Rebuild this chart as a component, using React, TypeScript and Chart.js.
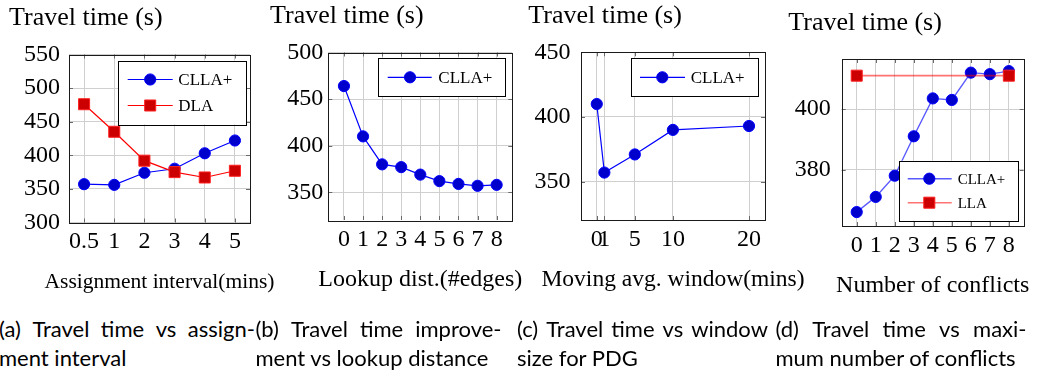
import React, { useEffect, useRef } from 'react';
import { Chart, registerables } from 'chart.js';

Chart.register(...registerables);

const SERIF = '"Liberation Serif", "Times New Roman", serif';
const SANS = 'Lato, "Noto Sans", sans-serif';
const CANVAS_H = 300;

// ---------- data ----------
// (a) Travel time vs assignment interval
const aCategories = ['0.5', '1', '2', '3', '4', '5'];
const aCLLA = [357, 356, 374, 380, 403, 422];
const aDLA = [476, 435, 392, 375, 367, 377];
const aYTicks = [300, 350, 400, 450, 500, 550];

// (b) Travel time improvement vs lookup distance
const bX = [0, 1, 2, 3, 4, 5, 6, 7, 8];
const bCLLA = [464, 410, 380, 377, 369, 362, 359, 357, 358];
const bYTicks = [350, 400, 450, 500];

// (c) Travel time vs window size for PDG
const cX = [0, 1, 5, 10, 20];
const cCLLA = [410, 357, 371, 390, 393];
const cYTicks = [350, 400, 450];

// (d) Travel time vs maximum number of conflicts
const dX = [0, 1, 2, 3, 4, 5, 6, 7, 8];
const dCLLA = [366, 371, 378, 391, 403.5, 403, 412, 411.5, 412.5];
const dLLAX = [0, 8];
const dLLA = [411, 411];
const dYTicks = [380, 400];

const yAxisTitle = 'Travel time (s)';
const xTitles = ['Assignment interval(mins)', 'Lookup dist.(#edges)', 'Moving avg. window(mins)', 'Number of conflicts'];
const captionFirst = ['(a) Travel time vs assign-', '(b) Travel time improve-', '(c) Travel time vs window', '(d) Travel time vs maxi-'];
const captionSecond = ['ment interval', 'ment vs lookup distance', 'size for PDG', 'mum number of conflicts'];

// ---------- styles ----------
const BLUE = { line: '#0000ff', fill: 'rgb(0,0,204)', stroke: '#0000ff' };
const RED = { line: '#ff0000', fill: 'rgb(204,0,0)', stroke: '#ff2020' };
const GRID = '#cfcfcf';

function series(label: string, data: any[], c: any, style: string, order: number, lineColor?: string, lineWidth = 1.2) {
  return {
    label,
    data,
    borderColor: lineColor || c.line,
    borderWidth: lineWidth,
    backgroundColor: c.fill,
    pointBackgroundColor: c.fill,
    pointBorderColor: c.stroke,
    pointBorderWidth: 1,
    pointStyle: style,
    pointRadius: style === 'rect' ? 7.8 : 5.6,
    tension: 0,
    fill: false,
    order,
  };
}

const xy = (xs: number[], ys: number[]) => xs.map((x, i) => ({ x, y: ys[i] }));

const decor = {
  id: 'decor',
  beforeDatasetsDraw(chart: any) {
    const { ctx, chartArea: ca } = chart;
    const xs = chart.scales.x;
    const ys = chart.scales.y;
    ctx.save();
    ctx.strokeStyle = '#6a6a6a';
    ctx.lineWidth = 1;
    ctx.beginPath();
    xs.ticks.forEach((_t: any, i: number) => {
      const px = Math.round(xs.getPixelForTick(i)) + 0.5;
      ctx.moveTo(px, ca.bottom);
      ctx.lineTo(px, ca.bottom - 4);
      ctx.moveTo(px, ca.top);
      ctx.lineTo(px, ca.top + 4);
    });
    ys.ticks.forEach((_t: any, i: number) => {
      const py = Math.round(ys.getPixelForTick(i)) + 0.5;
      ctx.moveTo(ca.left, py);
      ctx.lineTo(ca.left + 4, py);
      ctx.moveTo(ca.right, py);
      ctx.lineTo(ca.right - 4, py);
    });
    ctx.stroke();
    ctx.strokeStyle = '#1a1a1a';
    ctx.strokeRect(Math.round(ca.left) + 0.5, Math.round(ca.top) + 0.5, Math.round(ca.right - ca.left), Math.round(ca.bottom - ca.top));
    ctx.restore();
  },
  afterDraw(chart: any, _a: any, o: any) {
    const { ctx, chartArea: ca } = chart;
    ctx.save();
    ctx.fillStyle = '#000';
    ctx.textBaseline = 'alphabetic';
    // y axis title above plot
    ctx.font = `26px ${SERIF}`;
    ctx.textAlign = 'left';
    ctx.fillText(o.yTitle, o.titleX, ca.top - 29.5);
    // x axis title below tick labels
    ctx.font = `${o.xTitleSize}px ${SERIF}`;
    ctx.textAlign = 'center';
    ctx.fillText(o.xTitle, (ca.left + ca.right) / 2, ca.bottom + 65.5);
    // legend
    ctx.textAlign = 'left';
    const lg = o.legend;
    const items = chart.data.datasets;
    const h = items.length * lg.rowH + 12;
    const right = ca.right - lg.insetX;
    const left = right - lg.w;
    const top = lg.anchor === 'ne' ? ca.top + lg.insetY : ca.bottom - lg.insetY - h;
    ctx.fillStyle = '#fff';
    ctx.fillRect(left, top, lg.w, h);
    ctx.strokeStyle = '#000';
    ctx.lineWidth = 1;
    ctx.strokeRect(Math.round(left) + 0.5, Math.round(top) + 0.5, Math.round(lg.w), Math.round(h));
    items.forEach((ds: any, i: number) => {
      const y = top + 6 + lg.rowH * (i + 0.5);
      ctx.strokeStyle = ds.borderColor;
      ctx.lineWidth = ds.borderWidth;
      ctx.beginPath();
      ctx.moveTo(left + lg.lineX0, y);
      ctx.lineTo(left + lg.lineX1, y);
      ctx.stroke();
      const mx = left + lg.markX;
      ctx.fillStyle = ds.pointBackgroundColor;
      ctx.strokeStyle = ds.pointBorderColor;
      ctx.lineWidth = 1;
      ctx.beginPath();
      if (ds.pointStyle === 'rect') {
        const s = Math.SQRT1_2 * ds.pointRadius;
        ctx.rect(mx - s, y - s, 2 * s, 2 * s);
      } else {
        ctx.arc(mx, y, ds.pointRadius, 0, Math.PI * 2);
      }
      ctx.fill();
      ctx.stroke();
      ctx.fillStyle = '#000';
      ctx.font = `${lg.font}px ${SERIF}`;
      ctx.textBaseline = 'middle';
      ctx.fillText(ds.label, left + lg.textX, y + 1);
    });
    ctx.restore();
  },
};

type PanelCfg = {
  canvasX: number;
  canvasW: number;
  plot: { l: number; r: number; t: number; b: number };
  xType: 'category' | 'linear';
  labels?: string[];
  xMin?: number;
  xMax?: number;
  xTicks?: number[];
  yMin: number;
  yMax: number;
  yTicks: number[];
  yPad: number;
  xTitle: string;
  xTitleSize: number;
  titleX: number;
  datasets: any[];
  legend: any;
};

const panels: PanelCfg[] = [
  {
    canvasX: 0, canvasW: 300,
    plot: { l: 69, r: 250, t: 54.5, b: 222.5 },
    xType: 'category', labels: aCategories,
    yMin: 300, yMax: 550, yTicks: aYTicks, yPad: 9,
    xTitle: xTitles[0], xTitleSize: 21.5, titleX: 9,
    datasets: [series('CLLA+', aCLLA, BLUE, 'circle', 2), series('DLA', aDLA, RED, 'rect', 1)],
    legend: { w: 128, rowH: 26, anchor: 'ne', insetX: 4, insetY: 6, lineX0: 9.7, lineX1: 54.7, markX: 32.2, textX: 60.3, font: 17 },
  },
  {
    canvasX: 240, canvasW: 300,
    plot: { l: 328.3, r: 512.3, t: 52.5, b: 220 },
    xType: 'linear', xMin: -0.82, xMax: 8.82, xTicks: bX,
    yMin: 320.3, yMax: 500, yTicks: bYTicks, yPad: 5,
    xTitle: xTitles[1], xTitleSize: 24, titleX: 270,
    datasets: [series('CLLA+', xy(bX, bCLLA), BLUE, 'circle', 1)],
    legend: { w: 127.4, rowH: 26, anchor: 'ne', insetX: 6.6, insetY: 5.8, lineX0: 9.4, lineX1: 53.4, markX: 31.7, textX: 60, font: 17 },
  },
  {
    canvasX: 500, canvasW: 330,
    plot: { l: 581, r: 765, t: 52.3, b: 220 },
    xType: 'linear', xMin: -2.07, xMax: 22.1, xTicks: cX,
    yMin: 320.3, yMax: 450, yTicks: cYTicks, yPad: 10.5,
    xTitle: xTitles[2], xTitleSize: 23.5, titleX: 528.3,
    datasets: [series('CLLA+', xy(cX, cCLLA), BLUE, 'circle', 1)],
    legend: { w: 127.3, rowH: 26, anchor: 'ne', insetX: 6.7, insetY: 6, lineX0: 9, lineX1: 54, markX: 31.3, textX: 59.7, font: 17 },
  },
  {
    canvasX: 760, canvasW: 279,
    plot: { l: 841.7, r: 1023.7, t: 59, b: 226 },
    xType: 'linear', xMin: -0.79, xMax: 8.78, xTicks: dX,
    yMin: 361.4, yMax: 416.5, yTicks: dYTicks, yPad: 11,
    xTitle: xTitles[3], xTitleSize: 24, titleX: 788.3,
    datasets: [
      series('CLLA+', xy(dX, dCLLA), BLUE, 'circle', 2, 'rgba(0,0,255,0.65)', 1.4),
      series('LLA', xy(dLLAX, dLLA), RED, 'rect', 1, 'rgba(255,0,0,0.55)', 1.6),
    ],
    legend: { w: 119.3, rowH: 24, anchor: 'se', insetX: 5.4, insetY: 5.3, lineX0: 8.7, lineX1: 52.7, markX: 30.3, textX: 58.7, font: 15 },
  },
];

function buildConfig(p: PanelCfg): any {
  const font = { family: SERIF, size: 24, lineHeight: 1.2 };
  return {
    type: 'line',
    data: { labels: p.labels, datasets: p.datasets },
    plugins: [decor],
    options: {
      animation: false,
      responsive: false,
      devicePixelRatio: 1,
      layout: { padding: { left: 0, top: p.plot.t, right: p.canvasX + p.canvasW - p.plot.r, bottom: 0 } },
      plugins: {
        legend: { display: false },
        tooltip: { enabled: false },
        title: { display: false },
        decor: { yTitle: yAxisTitle, titleX: p.titleX - p.canvasX, xTitle: p.xTitle, xTitleSize: p.xTitleSize, legend: p.legend },
      },
      scales: {
        x: {
          type: p.xType,
          min: p.xMin,
          max: p.xMax,
          offset: p.xType === 'category',
          grid: { color: GRID, drawTicks: false, lineWidth: 1 },
          border: { display: false },
          ticks: { font, color: '#000', padding: 5, autoSkip: false, maxRotation: 0, minRotation: 0 },
          afterBuildTicks: p.xTicks ? (s: any) => { s.ticks = p.xTicks!.map((v) => ({ value: v })); } : undefined,
          title: { display: false },
          afterFit: (s: any) => { s.height = CANVAS_H - p.plot.b; },
        },
        y: {
          type: 'linear',
          min: p.yMin,
          max: p.yMax,
          grid: { color: GRID, drawTicks: false, lineWidth: 1 },
          border: { display: false },
          ticks: { font, color: '#000', padding: p.yPad },
          afterBuildTicks: (s: any) => { s.ticks = p.yTicks.map((v) => ({ value: v })); },
          afterFit: (s: any) => { s.width = p.plot.l - p.canvasX; },
        },
      },
    },
  };
}

function Panel({ cfg }: { cfg: PanelCfg }) {
  const ref = useRef<HTMLCanvasElement>(null);
  useEffect(() => {
    const chart = new Chart(ref.current as HTMLCanvasElement, buildConfig(cfg));
    return () => chart.destroy();
  }, [cfg]);
  return (
    <canvas
      ref={ref}
      width={cfg.canvasW}
      height={CANVAS_H}
      style={{ position: 'absolute', left: cfg.canvasX, top: 0, width: cfg.canvasW, height: CANVAS_H }}
    />
  );
}

const captionLeft = [-1, 255.5, 517, 775.5];
const captionWidth = [256, 246, 251, 251];

function Caption({ i }: { i: number }) {
  const common: React.CSSProperties = {
    position: 'absolute',
    left: captionLeft[i],
    fontFamily: SANS,
    fontSize: 22,
    lineHeight: '29px',
    color: '#000',
    whiteSpace: 'nowrap',
  };
  return (
    <>
      <div style={{ ...common, top: 314, width: captionWidth[i], display: 'flex', justifyContent: 'space-between' }}>
        {captionFirst[i].split(' ').map((w, k) => (
          <span key={k}>{w}</span>
        ))}
      </div>
      <div style={{ ...common, top: 343 }}>{captionSecond[i]}</div>
    </>
  );
}

export default function App() {
  return (
    <div style={{ position: 'absolute', left: 0, top: 0, width: 1039, height: 376, background: '#fff', overflow: 'hidden' }}>
      {panels.map((p, i) => (
        <Panel key={i} cfg={p} />
      ))}
      {[0, 1, 2, 3].map((i) => (
        <Caption key={i} i={i} />
      ))}
    </div>
  );
}
